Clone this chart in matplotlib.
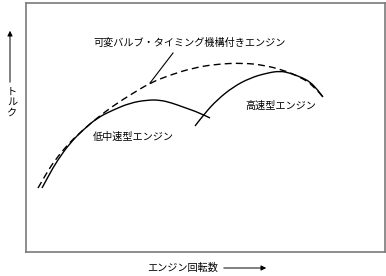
import matplotlib
matplotlib.use("Agg")
from matplotlib import pyplot as plt
from matplotlib.path import Path
from matplotlib.patches import PathPatch, FancyArrowPatch

plt.rcParams['font.family'] = ['Noto Sans CJK JP', 'DejaVu Sans']

# エンジン回転数 (任意単位) とトルク (任意単位)
vvt_rpm = [12, 20, 29, 44, 57, 71, 87, 104, 124, 144, 167, 191, 217, 237, 257, 274, 287, 297]
vvt_torque = [64, 78, 92, 110, 122, 134, 146, 157, 169, 177, 184, 188, 189, 187, 182, 175, 167, 155]

low_rpm = [16, 23, 31, 44, 57, 71, 87, 104, 121, 134, 146, 157, 174, 184]
low_torque = [64, 77, 91, 109, 122, 134, 142, 149, 152, 152, 149, 145, 139, 134]

high_rpm = [169, 179, 191, 207, 224, 241, 254, 264, 277, 284, 291, 297]
high_torque = [126, 139, 152, 165, 174, 179, 181, 179, 174, 170, 163, 155]


def smooth_curve(ax, xs, ys, **kw):
    # 点を制御点にした2次ベジェで滑らかにつなぐ
    pts = list(zip(xs, ys))
    verts = [pts[0]]
    codes = [Path.MOVETO]
    for i in range(1, len(pts) - 1):
        mid = ((pts[i][0] + pts[i + 1][0]) / 2, (pts[i][1] + pts[i + 1][1]) / 2)
        if i == len(pts) - 2:
            mid = pts[-1]
        verts += [pts[i], mid]
        codes += [Path.CURVE3, Path.CURVE3]
    ax.add_patch(PathPatch(Path(verts, codes), fill=False, **kw))


W, H = 386, 276
fig = plt.figure(figsize=(W / 100, H / 100), dpi=100)
ax = fig.add_axes([26 / W, 1 - 252 / H, 359 / W, 249 / H])
ax.set_xlim(0, 359)
ax.set_ylim(0, 249)
ax.set_xticks([])
ax.set_yticks([])
for s in ax.spines.values():
    s.set_color('#7a7a7a')
    s.set_linewidth(1.2)

smooth_curve(ax, vvt_rpm, vvt_torque, edgecolor='black', lw=1.0, ls=(0, (5, 3)))
smooth_curve(ax, low_rpm, low_torque, edgecolor='black', lw=1.0)
smooth_curve(ax, high_rpm, high_torque, edgecolor='black', lw=1.0)

# 注記
ax.plot([124, 147], [169, 199], color='black', lw=0.8)
ax.text(164, 209, '可変バルブ・タイミング機構付きエンジン', fontsize=7.3,
        ha='center', va='center')
ax.text(255, 146, '高速型エンジン', fontsize=7.3, ha='center', va='center')
ax.text(107, 115, '低中速型エンジン', fontsize=7.3, ha='center', va='center')

# 軸ラベル
fig.text(12 / W, 1 - 102 / H, 'ト\nル\nク', fontsize=7.3, ha='center',
         va='center', linespacing=1.05)
fig.add_artist(FancyArrowPatch(
    (10 / W, 1 - 85 / H), (10 / W, 1 - 28 / H), transform=fig.transFigure,
    arrowstyle='-|>,head_length=3,head_width=1.5', color='black', lw=0.7))

fig.text(183 / W, 1 - 268 / H, 'エンジン回転数', fontsize=7.3, ha='center',
         va='center')
fig.add_artist(FancyArrowPatch(
    (221 / W, 1 - 268 / H), (269 / W, 1 - 268 / H), transform=fig.transFigure,
    arrowstyle='-|>,head_length=3,head_width=1.5', color='black', lw=0.7))

fig.savefig('out.png', dpi=100)
